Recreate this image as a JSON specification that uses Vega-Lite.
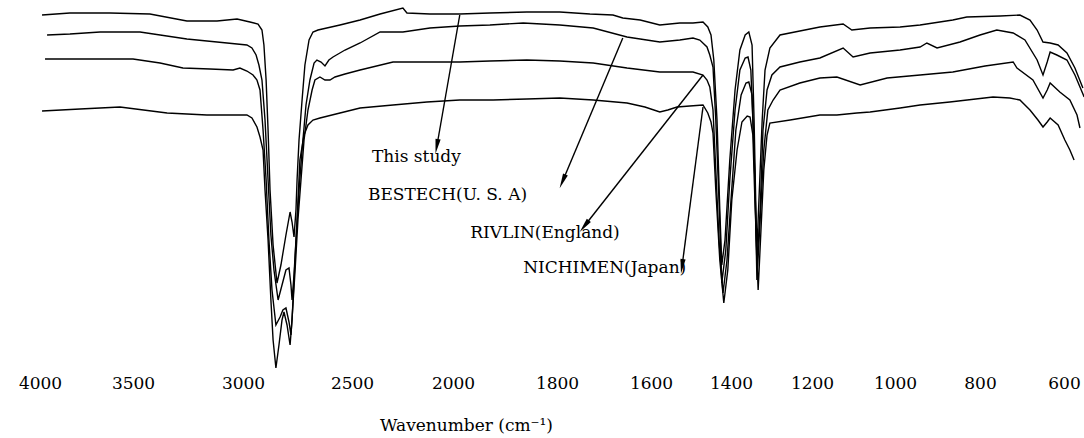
{
  "$schema": "https://vega.github.io/schema/vega-lite/v6.json",
  "width": 1084,
  "height": 365,
  "autosize": "none",
  "padding": {"left": 0, "right": 0, "top": 0, "bottom": 73},
  "background": "white",
  "config": {"view": {"stroke": null}},
  "datasets": {
    "spectra": [
      {"s":"A","wn":3989,"t":70},{"s":"A","wn":3839,"t":70.4},{"s":"A","wn":3624,"t":70.4},{"s":"A","wn":3423,"t":70.2},{"s":"A","wn":3255,"t":68.8},{"s":"A","wn":3118,"t":68.8},{"s":"A","wn":3027,"t":69.2},{"s":"A","wn":2968,"t":68.6},{"s":"A","wn":2931,"t":68.2},{"s":"A","wn":2913,"t":67},{"s":"A","wn":2904,"t":64},{"s":"A","wn":2894,"t":57},{"s":"A","wn":2885,"t":47},{"s":"A","wn":2876,"t":35},{"s":"A","wn":2862,"t":24},{"s":"A","wn":2844,"t":16.4},{"s":"A","wn":2826,"t":20},{"s":"A","wn":2803,"t":26},{"s":"A","wn":2784,"t":30.6},{"s":"A","wn":2775,"t":28.6},{"s":"A","wn":2766,"t":25.6},{"s":"A","wn":2757,"t":31},{"s":"A","wn":2752,"t":37},{"s":"A","wn":2743,"t":45},{"s":"A","wn":2729,"t":53},{"s":"A","wn":2716,"t":60},{"s":"A","wn":2697,"t":65},{"s":"A","wn":2679,"t":66.6},{"s":"A","wn":2656,"t":67},{"s":"A","wn":2555,"t":68},{"s":"A","wn":2460,"t":69},{"s":"A","wn":2361,"t":70.2},{"s":"A","wn":2248,"t":71.4},{"s":"A","wn":2228,"t":70.4},{"s":"A","wn":2114,"t":70.2},{"s":"A","wn":1987,"t":70.2},{"s":"A","wn":1929,"t":70.4},{"s":"A","wn":1858,"t":70.6},{"s":"A","wn":1794,"t":70.6},{"s":"A","wn":1730,"t":70.2},{"s":"A","wn":1681,"t":70},{"s":"A","wn":1660,"t":69.4},{"s":"A","wn":1623,"t":69},{"s":"A","wn":1578,"t":68},{"s":"A","wn":1528,"t":68.4},{"s":"A","wn":1495,"t":68.4},{"s":"A","wn":1470,"t":68.6},{"s":"A","wn":1458,"t":67.6},{"s":"A","wn":1450,"t":66},{"s":"A","wn":1443,"t":61},{"s":"A","wn":1435,"t":49},{"s":"A","wn":1428,"t":31},{"s":"A","wn":1423,"t":20},{"s":"A","wn":1415,"t":25},{"s":"A","wn":1403,"t":41},{"s":"A","wn":1390,"t":55},{"s":"A","wn":1378,"t":63},{"s":"A","wn":1365,"t":66},{"s":"A","wn":1356,"t":66.6},{"s":"A","wn":1348,"t":64},{"s":"A","wn":1343,"t":49},{"s":"A","wn":1338,"t":29},{"s":"A","wn":1336,"t":23},{"s":"A","wn":1331,"t":33},{"s":"A","wn":1323,"t":49},{"s":"A","wn":1316,"t":59},{"s":"A","wn":1304,"t":63.4},{"s":"A","wn":1279,"t":66},{"s":"A","wn":1230,"t":66.8},{"s":"A","wn":1181,"t":67.6},{"s":"A","wn":1125,"t":68.2},{"s":"A","wn":1104,"t":67},{"s":"A","wn":1060,"t":67.4},{"s":"A","wn":988,"t":67.6},{"s":"A","wn":941,"t":68},{"s":"A","wn":864,"t":69},{"s":"A","wn":831,"t":69.6},{"s":"A","wn":752,"t":69.8},{"s":"A","wn":705,"t":70},{"s":"A","wn":681,"t":69},{"s":"A","wn":664,"t":67},{"s":"A","wn":650,"t":64.6},{"s":"A","wn":633,"t":64.4},{"s":"A","wn":614,"t":64},{"s":"A","wn":593,"t":62.4},{"s":"A","wn":574,"t":59.4},{"s":"A","wn":555,"t":55.4},
      {"s":"B","wn":3962,"t":66},{"s":"B","wn":3839,"t":66.2},{"s":"B","wn":3677,"t":66.6},{"s":"B","wn":3468,"t":66.6},{"s":"B","wn":3255,"t":65.2},{"s":"B","wn":3118,"t":64.6},{"s":"B","wn":2982,"t":64},{"s":"B","wn":2959,"t":63.4},{"s":"B","wn":2940,"t":62},{"s":"B","wn":2927,"t":60},{"s":"B","wn":2913,"t":57},{"s":"B","wn":2899,"t":49},{"s":"B","wn":2885,"t":37},{"s":"B","wn":2872,"t":26},{"s":"B","wn":2858,"t":19},{"s":"B","wn":2839,"t":13},{"s":"B","wn":2821,"t":16},{"s":"B","wn":2803,"t":19},{"s":"B","wn":2789,"t":19.4},{"s":"B","wn":2780,"t":16},{"s":"B","wn":2775,"t":13},{"s":"B","wn":2766,"t":18},{"s":"B","wn":2757,"t":25},{"s":"B","wn":2743,"t":35},{"s":"B","wn":2729,"t":43},{"s":"B","wn":2711,"t":52},{"s":"B","wn":2693,"t":57},{"s":"B","wn":2674,"t":60.4},{"s":"B","wn":2661,"t":61},{"s":"B","wn":2642,"t":60.6},{"s":"B","wn":2624,"t":59.8},{"s":"B","wn":2606,"t":61},{"s":"B","wn":2587,"t":61.6},{"s":"B","wn":2532,"t":63},{"s":"B","wn":2460,"t":64.4},{"s":"B","wn":2361,"t":66.6},{"s":"B","wn":2248,"t":66.6},{"s":"B","wn":2114,"t":67.4},{"s":"B","wn":1987,"t":67.8},{"s":"B","wn":1929,"t":68},{"s":"B","wn":1865,"t":68.4},{"s":"B","wn":1794,"t":68},{"s":"B","wn":1723,"t":67.4},{"s":"B","wn":1651,"t":65.6},{"s":"B","wn":1578,"t":64.6},{"s":"B","wn":1528,"t":65},{"s":"B","wn":1495,"t":65.4},{"s":"B","wn":1478,"t":65},{"s":"B","wn":1460,"t":63.6},{"s":"B","wn":1453,"t":62},{"s":"B","wn":1445,"t":59.6},{"s":"B","wn":1438,"t":49},{"s":"B","wn":1430,"t":33},{"s":"B","wn":1423,"t":16.4},{"s":"B","wn":1413,"t":23},{"s":"B","wn":1403,"t":37},{"s":"B","wn":1390,"t":51},{"s":"B","wn":1378,"t":59},{"s":"B","wn":1365,"t":61.4},{"s":"B","wn":1358,"t":61.6},{"s":"B","wn":1351,"t":59},{"s":"B","wn":1343,"t":43},{"s":"B","wn":1336,"t":20},{"s":"B","wn":1328,"t":31},{"s":"B","wn":1321,"t":47},{"s":"B","wn":1311,"t":55},{"s":"B","wn":1299,"t":58},{"s":"B","wn":1279,"t":59.6},{"s":"B","wn":1230,"t":60.6},{"s":"B","wn":1181,"t":61.4},{"s":"B","wn":1125,"t":63.4},{"s":"B","wn":1101,"t":61.6},{"s":"B","wn":1060,"t":62.4},{"s":"B","wn":988,"t":63},{"s":"B","wn":941,"t":63.6},{"s":"B","wn":925,"t":64.4},{"s":"B","wn":901,"t":63.4},{"s":"B","wn":847,"t":64.6},{"s":"B","wn":800,"t":66},{"s":"B","wn":760,"t":67},{"s":"B","wn":721,"t":66.4},{"s":"B","wn":693,"t":65},{"s":"B","wn":664,"t":61},{"s":"B","wn":650,"t":58},{"s":"B","wn":640,"t":60.6},{"s":"B","wn":633,"t":62.6},{"s":"B","wn":617,"t":62},{"s":"B","wn":593,"t":61},{"s":"B","wn":574,"t":58},{"s":"B","wn":552,"t":53.6},
      {"s":"C","wn":3973,"t":61.2},{"s":"C","wn":3731,"t":61.2},{"s":"C","wn":3500,"t":61.2},{"s":"C","wn":3377,"t":60.4},{"s":"C","wn":3273,"t":59.4},{"s":"C","wn":3150,"t":59.2},{"s":"C","wn":3045,"t":59},{"s":"C","wn":3014,"t":59.4},{"s":"C","wn":2982,"t":58.8},{"s":"C","wn":2954,"t":58},{"s":"C","wn":2936,"t":57},{"s":"C","wn":2922,"t":55},{"s":"C","wn":2908,"t":47},{"s":"C","wn":2894,"t":37},{"s":"C","wn":2881,"t":25},{"s":"C","wn":2867,"t":15},{"s":"C","wn":2849,"t":8},{"s":"C","wn":2830,"t":9.6},{"s":"C","wn":2817,"t":11},{"s":"C","wn":2803,"t":11.4},{"s":"C","wn":2789,"t":8.6},{"s":"C","wn":2780,"t":6},{"s":"C","wn":2771,"t":12},{"s":"C","wn":2761,"t":19},{"s":"C","wn":2748,"t":29},{"s":"C","wn":2734,"t":37},{"s":"C","wn":2720,"t":45},{"s":"C","wn":2702,"t":51},{"s":"C","wn":2683,"t":55},{"s":"C","wn":2670,"t":57},{"s":"C","wn":2647,"t":57.6},{"s":"C","wn":2624,"t":57},{"s":"C","wn":2601,"t":57},{"s":"C","wn":2578,"t":57.6},{"s":"C","wn":2532,"t":58.2},{"s":"C","wn":2460,"t":59},{"s":"C","wn":2297,"t":60.6},{"s":"C","wn":2114,"t":60.6},{"s":"C","wn":1987,"t":60.6},{"s":"C","wn":1929,"t":60.8},{"s":"C","wn":1858,"t":61},{"s":"C","wn":1794,"t":60.8},{"s":"C","wn":1723,"t":60.4},{"s":"C","wn":1651,"t":59.4},{"s":"C","wn":1578,"t":58.6},{"s":"C","wn":1495,"t":58.6},{"s":"C","wn":1470,"t":58},{"s":"C","wn":1460,"t":57},{"s":"C","wn":1453,"t":55.6},{"s":"C","wn":1445,"t":51},{"s":"C","wn":1438,"t":39},{"s":"C","wn":1430,"t":25},{"s":"C","wn":1420,"t":14.4},{"s":"C","wn":1410,"t":21},{"s":"C","wn":1400,"t":33},{"s":"C","wn":1388,"t":47},{"s":"C","wn":1375,"t":54},{"s":"C","wn":1363,"t":56.4},{"s":"C","wn":1356,"t":56.6},{"s":"C","wn":1348,"t":54},{"s":"C","wn":1341,"t":37},{"s":"C","wn":1336,"t":17},{"s":"C","wn":1328,"t":29},{"s":"C","wn":1319,"t":43},{"s":"C","wn":1309,"t":51},{"s":"C","wn":1296,"t":53},{"s":"C","wn":1279,"t":55},{"s":"C","wn":1230,"t":56.4},{"s":"C","wn":1181,"t":57.4},{"s":"C","wn":1140,"t":57.6},{"s":"C","wn":1084,"t":56},{"s":"C","wn":1019,"t":57.4},{"s":"C","wn":941,"t":58},{"s":"C","wn":864,"t":58.6},{"s":"C","wn":788,"t":59.8},{"s":"C","wn":721,"t":60.6},{"s":"C","wn":712,"t":59.4},{"s":"C","wn":674,"t":57},{"s":"C","wn":650,"t":53.4},{"s":"C","wn":640,"t":55},{"s":"C","wn":633,"t":56.4},{"s":"C","wn":610,"t":54.6},{"s":"C","wn":586,"t":53},{"s":"C","wn":569,"t":50},{"s":"C","wn":562,"t":47.4},
      {"s":"D","wn":3989,"t":50.8},{"s":"D","wn":3785,"t":51.2},{"s":"D","wn":3570,"t":51.6},{"s":"D","wn":3345,"t":50.4},{"s":"D","wn":3164,"t":50},{"s":"D","wn":2982,"t":50},{"s":"D","wn":2959,"t":49.4},{"s":"D","wn":2936,"t":47.6},{"s":"D","wn":2922,"t":45.6},{"s":"D","wn":2908,"t":43},{"s":"D","wn":2899,"t":35},{"s":"D","wn":2885,"t":25},{"s":"D","wn":2872,"t":13},{"s":"D","wn":2862,"t":5},{"s":"D","wn":2849,"t":-0.6},{"s":"D","wn":2835,"t":4},{"s":"D","wn":2821,"t":9},{"s":"D","wn":2812,"t":10.6},{"s":"D","wn":2798,"t":8},{"s":"D","wn":2784,"t":4},{"s":"D","wn":2775,"t":9},{"s":"D","wn":2766,"t":17},{"s":"D","wn":2752,"t":29},{"s":"D","wn":2739,"t":41},{"s":"D","wn":2720,"t":46},{"s":"D","wn":2702,"t":48},{"s":"D","wn":2679,"t":49},{"s":"D","wn":2647,"t":49.4},{"s":"D","wn":2555,"t":50.4},{"s":"D","wn":2460,"t":51.4},{"s":"D","wn":2297,"t":52},{"s":"D","wn":2129,"t":52.6},{"s":"D","wn":1987,"t":53},{"s":"D","wn":1923,"t":53},{"s":"D","wn":1858,"t":53.2},{"s":"D","wn":1794,"t":53.4},{"s":"D","wn":1723,"t":53},{"s":"D","wn":1651,"t":52.4},{"s":"D","wn":1613,"t":51.6},{"s":"D","wn":1578,"t":50.6},{"s":"D","wn":1558,"t":51},{"s":"D","wn":1535,"t":51.6},{"s":"D","wn":1503,"t":51.8},{"s":"D","wn":1470,"t":52},{"s":"D","wn":1458,"t":50.4},{"s":"D","wn":1450,"t":48.6},{"s":"D","wn":1445,"t":46.4},{"s":"D","wn":1438,"t":35},{"s":"D","wn":1428,"t":21},{"s":"D","wn":1418,"t":12.4},{"s":"D","wn":1408,"t":19},{"s":"D","wn":1398,"t":33},{"s":"D","wn":1385,"t":43},{"s":"D","wn":1373,"t":48.6},{"s":"D","wn":1360,"t":49.8},{"s":"D","wn":1353,"t":49.6},{"s":"D","wn":1346,"t":46},{"s":"D","wn":1341,"t":33},{"s":"D","wn":1333,"t":15},{"s":"D","wn":1326,"t":27},{"s":"D","wn":1319,"t":39},{"s":"D","wn":1311,"t":46},{"s":"D","wn":1304,"t":48.4},{"s":"D","wn":1254,"t":49},{"s":"D","wn":1181,"t":50},{"s":"D","wn":1140,"t":50},{"s":"D","wn":1092,"t":50.4},{"s":"D","wn":1060,"t":50.6},{"s":"D","wn":988,"t":51.4},{"s":"D","wn":941,"t":52},{"s":"D","wn":871,"t":52.6},{"s":"D","wn":769,"t":53.6},{"s":"D","wn":729,"t":53.4},{"s":"D","wn":705,"t":53},{"s":"D","wn":681,"t":51},{"s":"D","wn":662,"t":49},{"s":"D","wn":650,"t":47.6},{"s":"D","wn":640,"t":48.6},{"s":"D","wn":633,"t":49.4},{"s":"D","wn":614,"t":48},{"s":"D","wn":598,"t":45},{"s":"D","wn":586,"t":43},{"s":"D","wn":576,"t":41}
    ],
    "arrows": [
      {"name":"This study","wn":1987,"t":70,"wn2":2079,"t2":44,"ang":190},
      {"name":"BESTECH","wn":1660,"t":65.4,"wn2":1787,"t2":37,"ang":203},
      {"name":"RIVLIN","wn":1470,"t":58,"wn2":1740,"t2":28,"ang":218},
      {"name":"NICHIMEN","wn":1470,"t":51.6,"wn2":1522,"t2":20,"ang":188}
    ],
    "labels": [
      {"text":"This study","wn":2401,"t":41.6},
      {"text":"BESTECH(U. S. A)","wn":2421,"t":34},
      {"text":"RIVLIN(England)","wn":1967,"t":26.4},
      {"text":"NICHIMEN(Japan)","wn":1865,"t":19.4}
    ]
  },
  "encoding": {
    "x": {"type": "quantitative",
      "scale": {"domain": [4000,3500,3000,2500,2000,1800,1600,1400,1200,1000,800,600,550], "range": [40,133,243,352,453,557,651,731,812,895,980,1064,1085], "zero": false, "nice": false},
      "axis": {"values": [4000,3500,3000,2500,2000,1800,1600,1400,1200,1000,800,600], "format": "d", "domain": false, "ticks": false, "grid": false, "labelFont": "DejaVu Serif", "labelFontSize": 17, "labelColor": "black", "labelPadding": 10, "labelOverlap": false, "labelFlush": false, "title": "Wavenumber (cm⁻¹)", "titleFont": "DejaVu Serif", "titleFontSize": 17, "titleFontWeight": "normal", "titleColor": "black", "titlePadding": 26, "titleX": 466, "titleAlign": "center"}},
    "y": {"type": "quantitative", "scale": {"domain": [0, 73], "zero": false, "nice": false}, "axis": null}
  },
  "layer": [
    {
      "data": {"name": "spectra"},
      "mark": {"type": "line", "color": "black", "strokeWidth": 1.4, "interpolate": "linear"},
      "encoding": {
        "x": {"field": "wn", "type": "quantitative"},
        "y": {"field": "t", "type": "quantitative"},
        "detail": {"field": "s"}
      }
    },
    {
      "data": {"name": "arrows"},
      "mark": {"type": "rule", "color": "black", "strokeWidth": 1.4},
      "encoding": {
        "x": {"field": "wn", "type": "quantitative"},
        "y": {"field": "t", "type": "quantitative"},
        "x2": {"field": "wn2"},
        "y2": {"field": "t2"}
      }
    },
    {
      "data": {"name": "arrows"},
      "mark": {"type": "point", "shape": "M0,-1.2L0.35,0.8L-0.35,0.8Z", "filled": true, "color": "black", "size": 220, "opacity": 1},
      "encoding": {
        "x": {"field": "wn2", "type": "quantitative"},
        "y": {"field": "t2", "type": "quantitative"},
        "angle": {"field": "ang", "type": "quantitative", "scale": null}
      }
    },
    {
      "data": {"name": "labels"},
      "mark": {"type": "text", "align": "left", "baseline": "middle", "font": "DejaVu Serif", "fontSize": 17, "color": "black"},
      "encoding": {
        "x": {"field": "wn", "type": "quantitative"},
        "y": {"field": "t", "type": "quantitative"},
        "text": {"field": "text"}
      }
    }
  ]
}
